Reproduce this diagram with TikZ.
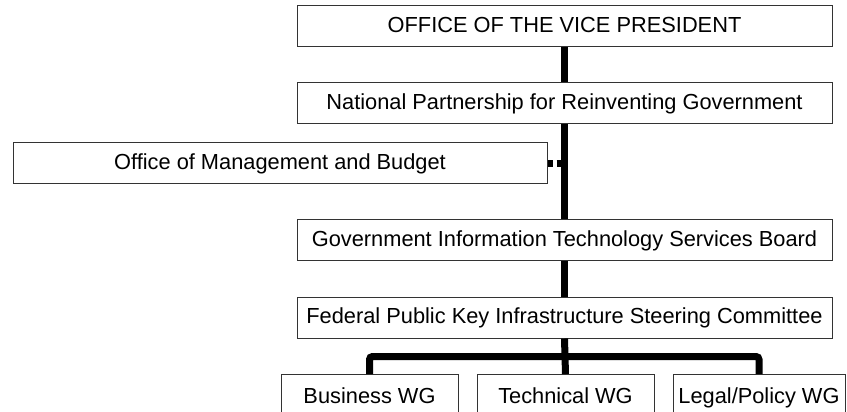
\documentclass[tikz,border=0pt]{standalone}
\usepackage{fontspec}
\setmainfont{Liberation Sans}
\usepackage{tikz}
\usetikzlibrary{positioning}

\begin{document}
\begin{tikzpicture}[x=1pt, y=-1pt,
        box/.style={draw=black!80, line width=1pt, fill=white, inner sep=0pt,
            minimum height=41pt, text height=17pt, text depth=4.6pt,
            font=\fontsize{21.8}{25}\selectfont},
        label/.style={anchor=base, font=\fontsize{21.8}{25}\selectfont},
        trunk/.style={line width=7pt}]
        \clip (0,0) rectangle (847,412);
        % Main chain
        \node[box, minimum width=535pt] (vp) at (564.5,26) {OFFICE OF THE VICE PRESIDENT};
        \node[box, minimum width=535pt] (npr) at (564.5,103.5) {National Partnership for Reinventing Government};
        \node[box, minimum width=534pt] (omb) at (280,163) {Office of Management and Budget};
        \node[box, minimum width=535pt] (gitsb) at (564.5,240) {Government Information Technology Services Board};
        \node[box, minimum width=535pt] (fpki) at (564.5,317.5) {Federal Public Key Infrastructure Steering Committee};
        % Working groups
        \node[box, minimum width=177pt, minimum height=60pt, anchor=north] (bwg) at (369.5,374) {};
        \node[box, minimum width=177pt, minimum height=60pt, anchor=north] (twg) at (565.5,374) {};
        \node[box, minimum width=172pt, minimum height=60pt, anchor=north] (lwg) at (759,374) {};
        \node[label] (bwgt) at (369.5,403) {Business WG};
        \node[label] (twgt) at (565.5,403) {Technical WG};
        \node[label] (lwgt) at (759,403) {Legal/Policy WG};
        % Trunk
        \draw[trunk] (vp.south) -- (npr.north);
        \draw[trunk] (npr.south) -- (gitsb.north);
        \draw[trunk] (gitsb.south) -- (fpki.north);
        \draw[trunk, dash pattern=on 5pt off 4pt] (omb.east) -- (omb.east -| npr.south);
        % Bus to working groups
        \coordinate (bus) at (565.5,356.5);
        \draw[trunk] (fpki.south) -- (twg.north);
        \draw[trunk, rounded corners=3pt] (bwg.north) |- (bus) -| (lwg.north);
    \end{tikzpicture}
\end{document}
